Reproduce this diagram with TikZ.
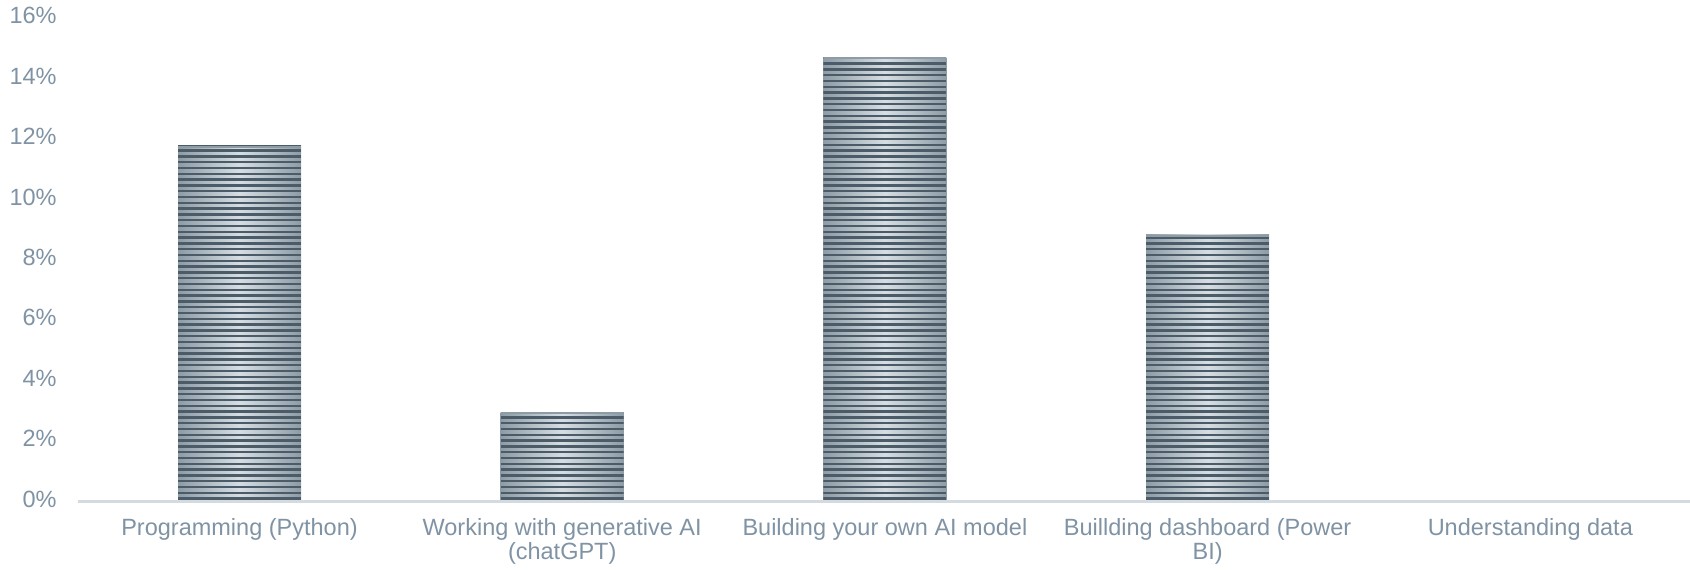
\documentclass[tikz,border=0pt]{standalone}
\usepackage{fontspec}
\setmainfont{Liberation Sans}
\usetikzlibrary{positioning,calc}

\definecolor{axisgray}{HTML}{D3DAE0}
\definecolor{labelgray}{HTML}{7F93A4}
\definecolor{stripedark}{HTML}{4B5C68}
\definecolor{stripelight}{HTML}{D6DEE3}
\definecolor{stripeedge}{HTML}{8E9CA6}

\tikzset{
    ylabel/.style={text=labelgray, font=\fontsize{11.75}{12}\selectfont, inner sep=0pt, anchor=base east},
    catlabel/.style={text=labelgray, font=\fontsize{11.75}{12}\selectfont, inner sep=0pt, align=center},
    stripebar/.style={minimum width=61.5pt, inner sep=0pt, outer sep=0pt, anchor=south,
        path picture={
            \coordinate (sw) at (path picture bounding box.south west);
            \coordinate (ne) at (path picture bounding box.north east);
            \shade[left color=stripeedge, right color=stripeedge, middle color=stripelight]
                (sw) rectangle (ne);
            \foreach \k in {0,...,80}
                \draw[stripedark, line width=1.25pt] ($(sw)+(0,\k*2.9pt+1.2pt)$) -- ++(61.5pt,0);
            \draw[stripeedge, line width=1pt] ($(sw |- ne)+(0,-0.5pt)$) -- ($(ne)+(0,-0.5pt)$);
        }},
}

\begin{document}
\begin{tikzpicture}[x=0.5pt, y=0.5pt]
    \useasboundingbox (0,-68) rectangle (1690,501);

    % y axis labels
    \foreach \p in {0,2,...,16}
        \node[ylabel] (y\p) at (57,\p*30.19-6) {\p\%};

    % category slots
    \foreach \x [count=\i] in {239.5,562.2,884.9,1207.6,1530.3}
        \coordinate (slot\i) at (\x,0);

    \node[stripebar, minimum height=177.6pt] (bar1) at (slot1) {};
    \node[stripebar, minimum height=44.4pt] (bar2) at (slot2) {};
    \node[stripebar, minimum height=222pt] (bar3) at (slot3) {};
    \node[stripebar, minimum height=133.2pt] (bar4) at (slot4) {};

    % baseline
    \coordinate (axl) at (78,0);
    \coordinate (axr) at (1690,0);
    \draw[axisgray, line width=1.5pt] (axl) -- (axr);

    \node[catlabel, below=8.5pt of slot1] (cat1) {Programming (Python)};
    \node[catlabel, below=8.5pt of slot2] (cat2) {Working with generative AI\\(chatGPT)};
    \node[catlabel, below=8.5pt of slot3] (cat3) {Building your own AI model};
    \node[catlabel, below=8.5pt of slot4] (cat4) {Buillding dashboard (Power\\BI)};
    \node[catlabel, below=8.5pt of slot5] (cat5) {Understanding data};
\end{tikzpicture}
\end{document}
